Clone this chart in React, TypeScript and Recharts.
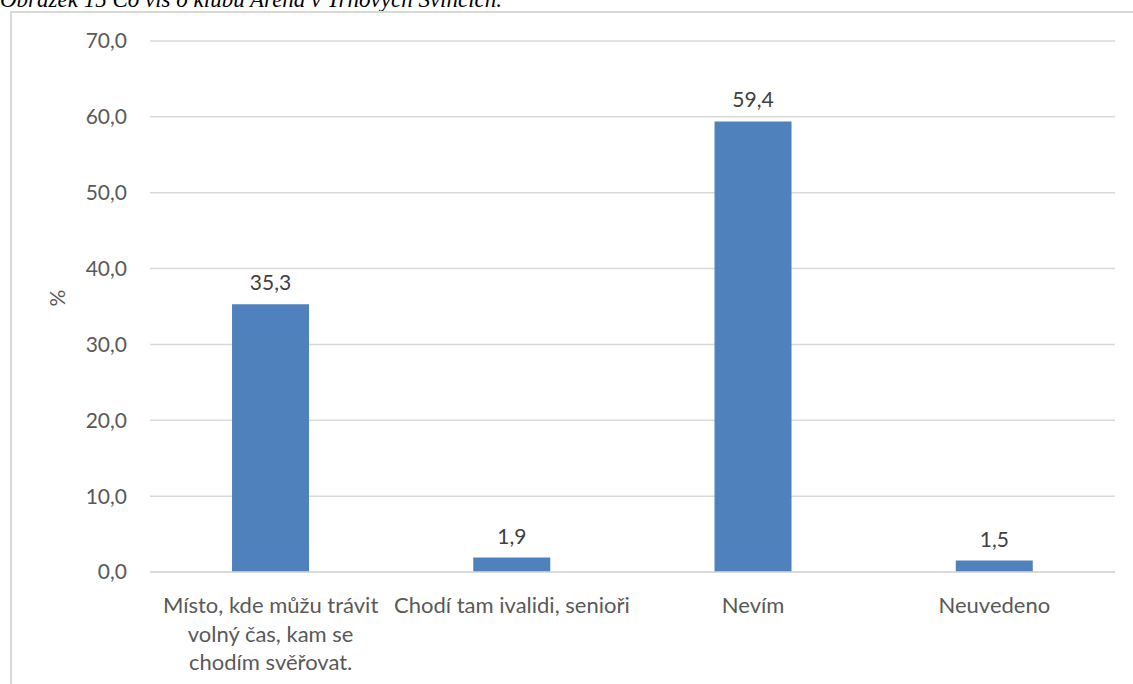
import { BarChart, Bar, XAxis, YAxis, CartesianGrid, LabelList, Label } from "recharts";

const categories = [
  "Místo, kde můžu trávit\nvolný čas, kam se\nchodím svěřovat.",
  "Chodí tam ivalidi, senioři",
  "Nevím",
  "Neuvedeno",
];
const percentages = [35.3, 1.9, 59.4, 1.5];
const yTicks = [0, 10, 20, 30, 40, 50, 60, 70];

const data = categories.map((name, i) => ({ name, value: percentages[i] }));

const FONT = "Lato, 'Open Sans', sans-serif";
const fmt = (v: number) => v.toFixed(1).replace(".", ",");

function CategoryTick({ x, y, payload }: any) {
  const lines = String(payload.value).split("\n");
  return (
    <text x={x} y={y} textAnchor="middle" fill="#595959" fontFamily={FONT} fontSize={22}>
      {lines.map((line, i) => (
        <tspan key={i} x={x} dy={i === 0 ? 39 : 28.5}>
          {line}
        </tspan>
      ))}
    </text>
  );
}

export default function App() {
  return (
    <div
      style={{
        position: "absolute",
        left: 0,
        top: 0,
        width: 1133,
        height: 684,
        overflow: "hidden",
        background: "#fff",
      }}
    >
      <div
        style={{
          position: "absolute",
          left: 0,
          top: -12,
          fontFamily: "'Liberation Serif', serif",
          fontStyle: "italic",
          fontSize: 23,
          lineHeight: "23px",
          whiteSpace: "nowrap",
          color: "#000",
        }}
      >
        Obrázek 15 Co víš o klubu Arena v Trnových Svincích.
      </div>
      <div
        style={{
          position: "absolute",
          left: 10,
          top: 11,
          width: 1300,
          height: 900,
          border: "2px solid #D9D9D9",
        }}
      />
      <div style={{ position: "absolute", left: 0, top: 0 }}>
        <BarChart
          width={1133}
          height={684}
          data={data}
          margin={{ top: 41, right: 18, bottom: 0, left: 0 }}
          barCategoryGap="34%"
        >
          <CartesianGrid vertical={false} stroke="#D9D9D9" strokeWidth={1.5} />
          <XAxis
            dataKey="name"
            height={112}
            axisLine={{ stroke: "#D9D9D9", strokeWidth: 1.5 }}
            tickLine={false}
            tickSize={0}
            interval={0}
            tick={<CategoryTick />}
          />
          <YAxis
            width={150}
            domain={[0, 70]}
            ticks={yTicks}
            axisLine={false}
            tickLine={false}
            tickSize={0}
            tickMargin={23}
            tickFormatter={fmt}
            tick={{ fill: "#595959", fontFamily: FONT, fontSize: 21 }}
          >
            <Label
              value="%"
              angle={-90}
              position="insideLeft"
              offset={58}
              style={{ fill: "#595959", fontFamily: FONT, fontSize: 21 }}
            />
          </YAxis>
          <Bar dataKey="value" fill="#4F81BD" isAnimationActive={false}>
            <LabelList
              dataKey="value"
              position="top"
              offset={14}
              formatter={(v: any) => fmt(Number(v))}
              style={{ fill: "#404040", fontFamily: FONT, fontSize: 21 }}
            />
          </Bar>
        </BarChart>
      </div>
    </div>
  );
}
